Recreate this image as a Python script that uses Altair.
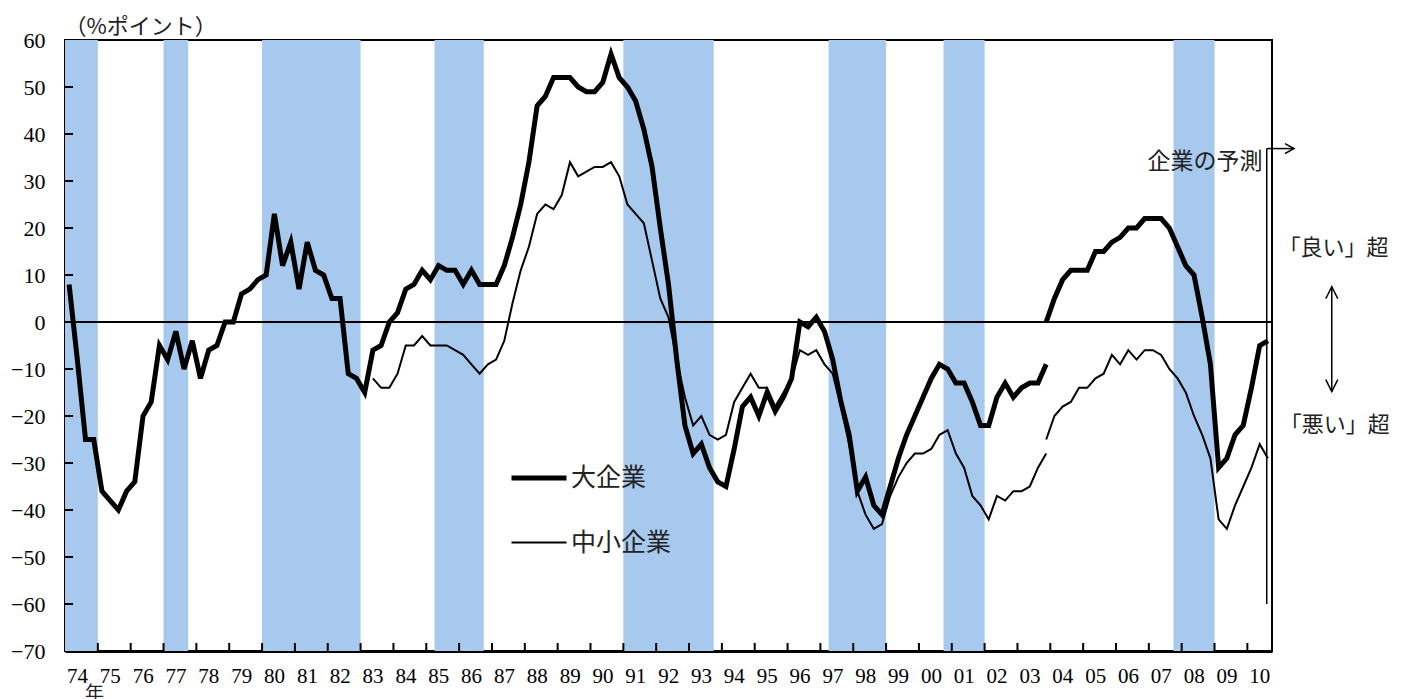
import altair as alt
import pandas as pd

# ---------------- data (quarterly, 1974Q1 = index 0) ----------------
START_YEAR = 1974
large_old = [8, -8, -25, -25, -36, -38, -40, -36, -34, -20, -17, -5, -8, -2, -10, -4,
             -12, -6, -5, 0, 0, 6, 7, 9, 10, 23, 12, 17, 7, 17, 11, 10,
             5, 5, -11, -12, -15, -6, -5, 0, 2, 7, 8, 11, 9, 12, 11, 11,
             8, 11, 8, 8, 8, 12, 18, 25, 34, 46, 48, 52, 52, 52, 50, 49,
             49, 51, 57, 52, 50, 47, 41, 33, 20, 8, -8, -22, -28, -26, -31, -34,
             -35, -27, -18, -16, -20, -15, -19, -16, -12, 0, -1, 1, -2, -8, -17, -24,
             -36, -33, -39, -41, -35, -29, -24, -20, -16, -12, -9, -10, -13, -13, -17, -22,
             -22, -16, -13, -16, -14, -13, -13, -9]          # 1974Q1 - 2003Q4
large_new = [0, 5, 9, 11, 11, 11, 15, 15, 17, 18, 20, 20, 22, 22, 22, 20,
             16, 12, 10, 1, -9, -31, -29, -24, -22, -14, -5, -4]   # 2003Q4 - 2010Q3
SME_OLD_START = 37                                             # 1983Q2
sme_old = [-12, -14, -14, -11, -5, -5, -3, -5, -5, -5, -6, -7, -9, -11, -9, -8,
           -4, 4, 11, 16, 23, 25, 24, 27, 34, 31, 32, 33, 33, 34, 31, 25,
           23, 21, 13, 5, 1, -8, -16, -22, -20, -24, -25, -24, -17, -14, -11, -14,
           -14, -18, -15, -12, -6, -7, -6, -9, -11, -18, -26, -36, -41, -44, -43, -37,
           -33, -30, -28, -28, -27, -24, -23, -28, -31, -37, -39, -42, -37, -38, -36, -36,
           -35, -31, -28]                                      # 1983Q2 - 2003Q4
NEW_START = 119                                                # 2003Q4
sme_new = [-25, -20, -18, -17, -14, -14, -12, -11, -7, -9, -6, -8, -6, -6, -7, -10,
           -12, -15, -20, -24, -29, -42, -44, -39, -35, -31, -26, -29]

recession_start = [1974.0, 1977.0, 1980.0, 1985.25, 1991.0, 1997.25, 2000.75, 2007.75]
recession_end = [1975.0, 1977.75, 1983.0, 1986.75, 1993.75, 1999.0, 2002.0, 2009.0]

year_ticks = list(range(1974, 2011))
y_ticks = list(range(-70, 61, 10))

series_names = ["大企業", "中小企業"]

# ---------------- tables ----------------
def qpos(i):
    return START_YEAR + (i + 0.5) / 4

rows = []
for i, v in enumerate(large_old):
    rows.append(("大企業", "L_old", qpos(i), v))
for i, v in enumerate(large_new):
    rows.append(("大企業", "L_new", qpos(NEW_START + i), v))
for i, v in enumerate(sme_old):
    rows.append(("中小企業", "S_old", qpos(SME_OLD_START + i), v))
for i, v in enumerate(sme_new):
    rows.append(("中小企業", "S_new", qpos(NEW_START + i), v))
df = pd.DataFrame(rows, columns=["series", "seg", "t", "v"])

bands = pd.DataFrame({"s": recession_start, "e": recession_end})
xt = pd.DataFrame({"yr": year_ticks[1:]})
yt = pd.DataFrame({"v": y_ticks[1:-1]})
one = pd.DataFrame({"d": [0]})

W, H = 1207, 611
SERIF = "Liberation Serif"
JP = "Noto Sans CJK JP"

xscale = alt.Scale(domain=[1974, 2010.75], nice=False, zero=False)
yscale = alt.Scale(domain=[-70, 60], nice=False, zero=False)

xaxis = alt.Axis(values=year_ticks, title=None, grid=False, ticks=False, tickSize=0,
                 labelExpr="substring(toString(datum.value), 2, 4)",
                 labelOffset=12, labelFlush=False, labelOverlap=False,
                 labelFont=SERIF, labelFontSize=21, labelColor="black",
                 labelPadding=14, labelBaseline="top",
                 domainColor="black", domainWidth=3)
yaxis = alt.Axis(values=y_ticks, title="（%ポイント）", grid=False, ticks=False, tickSize=0,
                 labelFont=SERIF, labelFontSize=22, labelColor="black", labelPadding=20,
                 labelOverlap=False, labelFlush=False,
                 titleAngle=0, titleX=-1, titleY=-14, titleAlign="left",
                 titleBaseline="middle", titleFont=JP, titleFontSize=22,
                 titleFontWeight="normal", titleColor="#222222",
                 domainColor="black", domainWidth=3)

band_layer = alt.Chart(bands).mark_rect(color="#a7c9ee").encode(
    x=alt.X("s:Q", scale=xscale, axis=xaxis),
    x2="e:Q",
    y=alt.YDatum(60, scale=yscale, axis=yaxis),
    y2=alt.Y2Datum(-70),
)

zero_layer = alt.Chart(one).mark_rule(color="black", strokeWidth=2).encode(
    y=alt.YDatum(0, scale=yscale, axis=yaxis),
)

xtick_layer = alt.Chart(xt).mark_rule(color="black", strokeWidth=2).encode(
    x=alt.X("yr:Q", scale=xscale, axis=xaxis),
    y=alt.value(H), y2=alt.value(H - 8),
)
ytick_layer = alt.Chart(yt).mark_rule(color="black", strokeWidth=2).encode(
    y=alt.Y("v:Q", scale=yscale, axis=yaxis),
    x=alt.value(0), x2=alt.value(8),
)

line_layer = alt.Chart(df).mark_line(color="black", strokeJoin="miter").encode(
    x=alt.X("t:Q", scale=xscale, axis=xaxis),
    y=alt.Y("v:Q", scale=yscale, axis=yaxis),
    detail="seg:N",
    strokeWidth=alt.StrokeWidth(
        "series:O",
        scale=alt.Scale(domain=series_names, range=[5, 2]),
        legend=alt.Legend(title=None, orient="none", legendX=444, legendY=408,
                          symbolType="stroke", symbolSize=3025,
                          symbolStrokeColor="black", labelFont=JP, labelFontSize=25,
                          labelColor="#222222", labelOffset=2, rowPadding=23, padding=0,
                          direction="vertical"),
    ),
)

# ---------------- annotations ----------------
FC_X = 2010.59
forecast_v = alt.Chart(one).mark_rule(color="black", strokeWidth=1.5).encode(
    x=alt.XDatum(FC_X, scale=xscale, axis=xaxis),
    y=alt.YDatum(36.9, scale=yscale, axis=yaxis), y2=alt.Y2Datum(-60),
)
forecast_h = alt.Chart(one).mark_rule(color="black", strokeWidth=1.5).encode(
    x=alt.XDatum(FC_X, scale=xscale, axis=xaxis), x2=alt.X2Datum(2011.42),
    y=alt.YDatum(36.9, scale=yscale, axis=yaxis),
)
forecast_head = alt.Chart(one).mark_point(
    shape="M-1,-0.55L0,0L-1,0.55", size=324, filled=False, color="black",
    strokeWidth=1.5, opacity=1).encode(
    x=alt.XDatum(2011.42, scale=xscale, axis=xaxis),
    y=alt.YDatum(36.9, scale=yscale, axis=yaxis),
)
forecast_txt = alt.Chart(one).mark_text(
    text="企業の予測", align="right", baseline="middle", font=JP, fontSize=23,
    color="#222222").encode(
    x=alt.XDatum(2010.46, scale=xscale, axis=xaxis),
    y=alt.YDatum(34.0, scale=yscale, axis=yaxis),
)

AR_X = 2012.57
dbl_rule = alt.Chart(one).mark_rule(color="black", strokeWidth=1.5).encode(
    x=alt.XDatum(AR_X, scale=xscale, axis=xaxis),
    y=alt.YDatum(7.5, scale=yscale, axis=yaxis), y2=alt.Y2Datum(-14.8),
)
dbl_top = alt.Chart(one).mark_point(
    shape="M-0.5,1L0,0L0.5,1", size=576, filled=False, color="black",
    strokeWidth=1.5, opacity=1).encode(
    x=alt.XDatum(AR_X, scale=xscale, axis=xaxis),
    y=alt.YDatum(7.5, scale=yscale, axis=yaxis),
)
dbl_bot = alt.Chart(one).mark_point(
    shape="M-0.5,-1L0,0L0.5,-1", size=576, filled=False, color="black",
    strokeWidth=1.5, opacity=1).encode(
    x=alt.XDatum(AR_X, scale=xscale, axis=xaxis),
    y=alt.YDatum(-14.8, scale=yscale, axis=yaxis),
)
good_txt = alt.Chart(one).mark_text(
    text="「良い」超", align="center", baseline="middle", font=JP, fontSize=22,
    color="#222222").encode(
    x=alt.XDatum(2012.62, scale=xscale, axis=xaxis),
    y=alt.YDatum(15.8, scale=yscale, axis=yaxis),
)
bad_txt = alt.Chart(one).mark_text(
    text="「悪い」超", align="center", baseline="middle", font=JP, fontSize=22,
    color="#222222").encode(
    x=alt.XDatum(2012.66, scale=xscale, axis=xaxis),
    y=alt.YDatum(-21.9, scale=yscale, axis=yaxis),
)
nen_txt = alt.Chart(one).mark_text(
    text="年", align="center", baseline="top", font=JP, fontSize=19,
    color="#222222").encode(
    x=alt.XDatum(1974.9, scale=xscale, axis=xaxis),
    y=alt.value(H + 34),
)

chart = alt.layer(
    band_layer, zero_layer, xtick_layer, ytick_layer, line_layer,
    forecast_v, forecast_h, forecast_head, forecast_txt,
    dbl_rule, dbl_top, dbl_bot, good_txt, bad_txt, nen_txt,
).properties(
    width=W, height=H,
    autosize=alt.AutoSizeParams(type="none"),
    padding={"left": 57, "top": 32, "right": 129, "bottom": 48},
    background="white",
).configure_view(
    stroke="black", strokeWidth=2,
)

chart.save("out.html", embed_options={"renderer": "svg", "actions": False})
